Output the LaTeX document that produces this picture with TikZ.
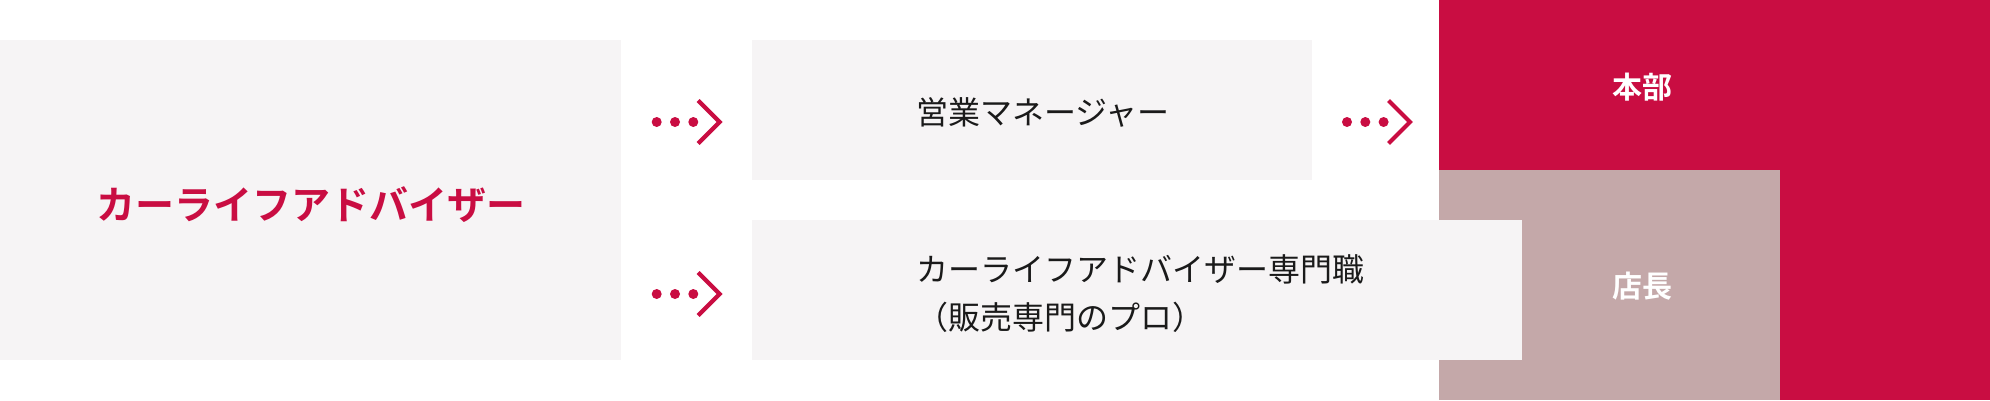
\documentclass[tikz,border=0pt]{standalone}
\usepackage{fontspec}
\setmainfont{Noto Sans CJK JP}[BoldFont={Noto Sans CJK JP Bold}]
\definecolor{accent}{RGB}{201,13,66}
\definecolor{mauve}{RGB}{196,168,169}
\definecolor{panel}{RGB}{246,244,245}
\definecolor{ink}{RGB}{26,26,26}
\begin{document}
\begin{tikzpicture}[x=1pt,y=-1pt,
  panelbox/.style={fill=panel, draw=none, inner sep=0pt, anchor=north west},
  redlabel/.style={text=accent, font=\bfseries\fontsize{39}{47}\selectfont, inner sep=0pt},
  whitelabel/.style={text=white, font=\bfseries\fontsize{30}{36}\selectfont, inner sep=0pt},
  inklabel/.style={text=ink, font=\fontsize{32}{48}\selectfont, inner sep=0pt},
  dotarrow/.pic={
    \fill[accent] (-66,0) circle (5);
    \fill[accent] (-47.7,0) circle (5);
    \fill[accent] (-29.4,0) circle (5);
    \draw[accent, line width=4.2pt, miter limit=4] (-24.5,-21.5) -- (-3,0) -- (-24.5,21.5);
  }]
\useasboundingbox (0,0) rectangle (1990,400);
\fill[white] (0,0) rectangle (1990,400);

% right-hand blocks
\node[fill=accent, inner sep=0pt, anchor=north west, minimum width=551pt, minimum height=400pt] (honbu) at (1439,0) {};
\node[fill=mauve, inner sep=0pt, anchor=north west, minimum width=341pt, minimum height=230pt] (tencho) at (1439,170) {};

% panels
\node[panelbox, minimum width=620.5pt, minimum height=320pt] (cla) at (0,40) {};
\node[panelbox, minimum width=560pt, minimum height=140pt] (mgr) at (752,40) {};
\node[panelbox, minimum width=770pt, minimum height=140pt] (pro) at (752,220) {};

% labels
\node[redlabel] (claT) at (310.5,205) {カーライフアドバイザー};
\node[inklabel] (mgrT) at (1043,112) {営業マネージャー};
\node[inklabel, align=left] (proT) at (1140,294) {カーライフアドバイザー専門職\\（販売専門のプロ）};
\node[whitelabel] (honbuT) at (1642,87) {本部};
\node[whitelabel] (tenchoT) at (1642,286) {店長};

% dotted arrows
\coordinate (a1) at (722.7,122);
\coordinate (a2) at (722.7,294);
\coordinate (a3) at (1413,122);
\pic at (a1) {dotarrow};
\pic at (a2) {dotarrow};
\pic at (a3) {dotarrow};
\end{tikzpicture}
\end{document}
